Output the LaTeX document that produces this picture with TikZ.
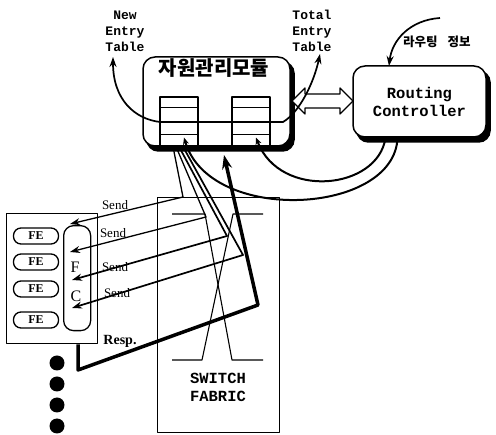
\documentclass[tikz,border=0pt]{standalone}
\usepackage{fontspec}
\setmainfont{Liberation Serif}
\newfontfamily\krfont{Noto Sans CJK KR}
\newfontfamily\monofont{Liberation Mono}
\usetikzlibrary{arrows.meta,calc}
\pgfdeclarelayer{shadowlayer}
\pgfsetlayers{shadowlayer,main}
\begin{document}
\begin{tikzpicture}[x=1pt,y=-1pt,line join=round,
  thinln/.style={line width=1.3pt},
  midln/.style={line width=1.7pt},
  tipa/.style={-{Stealth[length=10pt,width=7pt]}},
  bigbox/.style={draw, line width=1.5pt, rounded corners=12pt, fill=white, inner sep=0pt},
  tbl/.style={draw, thinln, minimum width=38pt, minimum height=49pt, inner sep=0pt},
  pill/.style={draw, thinln, rounded corners=7.5pt, minimum width=45pt, minimum height=16pt, inner sep=0pt, font=\bfseries\fontsize{12}{12}\selectfont},
  dot/.style={circle, fill=black, minimum size=15pt, inner sep=0pt},
  monolab/.style={font=\monofont\bfseries\fontsize{13}{16}\selectfont, align=center, inner sep=0pt},
  sendlab/.style={font=\fontsize{13}{13}\selectfont, inner sep=0pt}
]
\useasboundingbox (0,0) rectangle (496,435);

% labels on top
\node[monolab] (newlab) at (125,31) {New\\Entry\\Table};
\node[monolab] (totlab) at (312,31) {Total\\Entry\\Table};
\node[inner sep=0pt, anchor=west, font=\krfont\bfseries\fontsize{12.5}{12.5}\selectfont] (rlab) at (403,42) {라우팅\hspace{0.8em}정보};

% module
\node[bigbox, minimum width=147pt, minimum height=89pt] (mod) at (216.5,101.5) {};
\begin{pgfonlayer}{shadowlayer}
  \fill[rounded corners=12pt] ($(mod.south west)+(4,5)$) rectangle ($(mod.north east)+(4,5)$);
\end{pgfonlayer}
\node[inner sep=0pt, font=\krfont\bfseries\fontsize{20}{20}\selectfont] (title) at (214,68) {자원관리모듈};
\node[tbl] (lt) at (179,121.5) {};
\node[tbl] (rt) at (251,121.5) {};
\foreach \t in {lt,rt}{
  \draw[thinln] ($(\t.north west)+(0,11)$) -- ($(\t.north east)+(0,11)$);
  \draw[thinln] ($(\t.north west)+(0,38)$) -- ($(\t.north east)+(0,38)$);
}

% routing controller
\node[bigbox, minimum width=133pt, minimum height=71pt, align=center,
      font=\monofont\bfseries\fontsize{15.5}{18}\selectfont] (rc) at (419.5,101.5) {Routing\\Controller};
\begin{pgfonlayer}{shadowlayer}
  \fill[rounded corners=12pt] ($(rc.south west)+(4,5)$) rectangle ($(rc.north east)+(4,5)$);
\end{pgfonlayer}

% hollow double arrow between module and controller
\draw[thinln, fill=white] (292,101) -- (305,88) -- (305,94) -- (340,94) -- (340,88) -- (353,101)
   -- (340,114) -- (340,108) -- (305,108) -- (305,114) -- cycle;

% entry table line
\coordinate (newtip) at (113,57);
\coordinate (tottip) at (320,54);
\draw[midln, {Stealth[length=10pt,width=7pt]}-{Stealth[length=10pt,width=7pt]}]
  (newtip) .. controls (113,100) and (135,119) .. (160,122) -- (283,122)
  .. controls (300,112) and (314,82) .. (tottip);

% routing info arrow
\coordinate (rstart) at (440,18);
\draw[midln, tipa] (rstart) .. controls (410,20) and (392,40) .. (389,66);

% switch fabric
\node[draw, line width=1.1pt, minimum width=122pt, minimum height=235pt, anchor=north west, inner sep=0pt] (sf) at (157,197) {};
\draw[line width=1.1pt] (172,214) -- (205,214) -- (232,360) -- (263,360);
\draw[line width=1.1pt] (263,214) -- (233,214) -- (202,360) -- (172,360);
\node[monolab, font=\monofont\bfseries\fontsize{15.5}{18}\selectfont] (sflab) at (218,387) {SWITCH\\FABRIC};

% routing controller feedback curves
\draw[line width=2pt, -{Stealth[length=7pt,width=6pt]}] ($(rc.south)+(-34,0)$) .. controls (378,190) and (280,200) .. ($(rt.south)+(5,-9)$);
\draw[line width=2pt, -{Stealth[length=7pt,width=6pt]}] ($(rc.south)+(-22,0)$) .. controls (395,215) and (210,225) .. ($(lt.south)+(5,-9)$);

% FC box
\node[draw, thinln, minimum width=91pt, minimum height=130pt, anchor=north west, inner sep=0pt] (fcb) at (6,213) {};
\node[draw, thinln, rounded corners=10pt, minimum width=27pt, minimum height=105pt, anchor=north west, inner sep=0pt] (fc) at (63,225) {};
\node[inner sep=0pt, font=\fontsize{16}{16}\selectfont] (fl) at (75,267) {F};
\node[inner sep=0pt, font=\fontsize{16}{16}\selectfont] (cl) at (76,296) {C};
\node[pill] (fe1) at (36,236) {FE};
\node[pill] (fe2) at (36,262) {FE};
\node[pill] (fe3) at (36,289) {FE};
\node[pill] (fe4) at (36,320) {FE};

% send lines
\coordinate (t1) at (70,224);
\coordinate (t2) at (70,252);
\coordinate (t3) at (72,280);
\coordinate (t4) at (72,308);
\draw[thinln, tipa] ($(lt.south)+(-6,0)$) -- (183,197) -- (t1);
\draw[thinln, tipa] ($(lt.south)+(-3,0)$) -- (206,217) -- (t2);
\draw[midln, tipa] ($(lt.south)+(0,0)$) -- (227,236) -- (t3);
\draw[midln, tipa] ($(lt.south)+(4,0)$) -- (243,255) -- (t4);
\node[sendlab] (sd1) at (115,205) {Send};
\node[sendlab] (sd2) at (113,233) {Send};
\node[sendlab] (sd3) at (115,267) {Send};
\node[sendlab] (sd4) at (117,293) {Send};

% response line
\draw[line width=3.5pt, -{Stealth[length=14pt,width=10pt]}] ($(fcb.south west)+(72,0)$) -- (78,370) -- (258,305) -- (224,155);
\node[inner sep=0pt, font=\bfseries\fontsize{14}{14}\selectfont] (resp) at (120,341) {Resp.};

% dots
\node[dot] (d1) at (57,363) {};
\node[dot] (d2) at (57,384) {};
\node[dot] (d3) at (57,405) {};
\node[dot] (d4) at (57,426) {};
\end{tikzpicture}
\end{document}
